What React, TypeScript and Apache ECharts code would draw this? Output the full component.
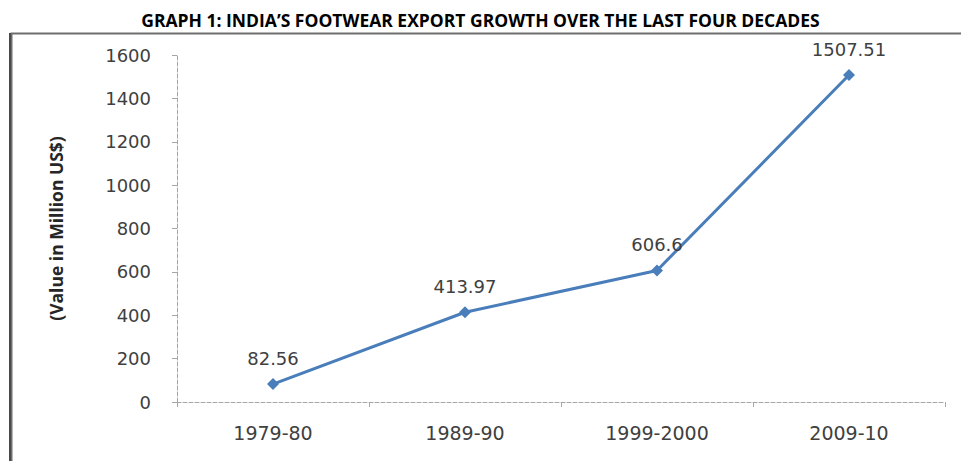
import React, { useEffect, useRef } from "react";
import * as echarts from "echarts";

const titleText = "GRAPH 1: INDIA\u2019S FOOTWEAR EXPORT GROWTH OVER THE LAST FOUR DECADES";
const yAxisTitle = "(Value in Million US$)";
const categories = ["1979-80", "1989-90", "1999-2000", "2009-10"];
const exportValues = [82.56, 413.97, 606.6, 1507.51];
const yMin = 0;
const yMax = 1600;
const yInterval = 200;

const labelFont = "DejaVu Sans, Verdana, sans-serif";
const titleFont = "Open Sans, sans-serif";

export default function App() {
  const ref = useRef<HTMLDivElement>(null);
  useEffect(() => {
    document.body.style.margin = "0";
    const chart = echarts.init(ref.current!, null, { renderer: "svg" });
    chart.setOption({
      animation: false,
      backgroundColor: "#ffffff",
      title: {
        text: titleText,
        left: "center",
        top: 6,
        textStyle: {
          fontFamily: titleFont,
          fontWeight: "bold",
          fontSize: 17.5,
          color: "#000000",
        },
      },
      graphic: [
        {
          type: "polyline",
          shape: { points: [[11.5, 461], [11.5, 33.5], [961, 33.5]] },
          style: { stroke: "#6e6e6e", lineWidth: 2, fill: "none" },
          silent: true,
        },
        {
          type: "line",
          shape: { x1: 10, y1: 33, x2: 10, y2: 461 },
          style: { stroke: "#4a4a4a", lineWidth: 2 },
          silent: true,
        },
      ],
      grid: { left: 177, right: 16, top: 55, bottom: 59, containLabel: false },
      xAxis: {
        type: "category",
        data: categories,
        boundaryGap: true,
        axisLine: { show: true, lineStyle: { color: "#a6a6a6", width: 1, type: "dashed" } },
        axisTick: { show: true, alignWithLabel: false, length: 5, lineStyle: { color: "#a6a6a6" } },
        axisLabel: {
          margin: 21,
          fontFamily: labelFont,
          fontSize: 19,
          color: "#404040",
        },
        splitLine: { show: false },
      },
      yAxis: {
        type: "value",
        min: yMin,
        max: yMax,
        interval: yInterval,
        name: yAxisTitle,
        nameLocation: "middle",
        nameGap: 112,
        nameRotate: 90,
        nameTextStyle: {
          fontFamily: titleFont,
          fontWeight: "bold",
          fontSize: 17.5,
          color: "#262626",
        },
        axisLine: { show: true, lineStyle: { color: "#a6a6a6", width: 1, type: "dashed" } },
        axisTick: { show: true, length: 5, inside: false, lineStyle: { color: "#a6a6a6" } },
        axisLabel: {
          margin: 26,
          formatter: (v: number) => String(v),
          fontFamily: labelFont,
          fontSize: 18,
          color: "#404040",
        },
        splitLine: { show: false },
      },
      series: [
        {
          type: "line",
          data: exportValues,
          symbol: "diamond",
          symbolSize: 12,
          lineStyle: { color: "#4a7ebb", width: 3 },
          itemStyle: { color: "#4a7ebb" },
          label: {
            show: true,
            position: "top",
            distance: 11,
            fontFamily: labelFont,
            fontSize: 18,
            color: "#404040",
          },
        },
      ],
    });
    return () => chart.dispose();
  }, []);
  return <div ref={ref} style={{ width: 961, height: 461 }} />;
}
